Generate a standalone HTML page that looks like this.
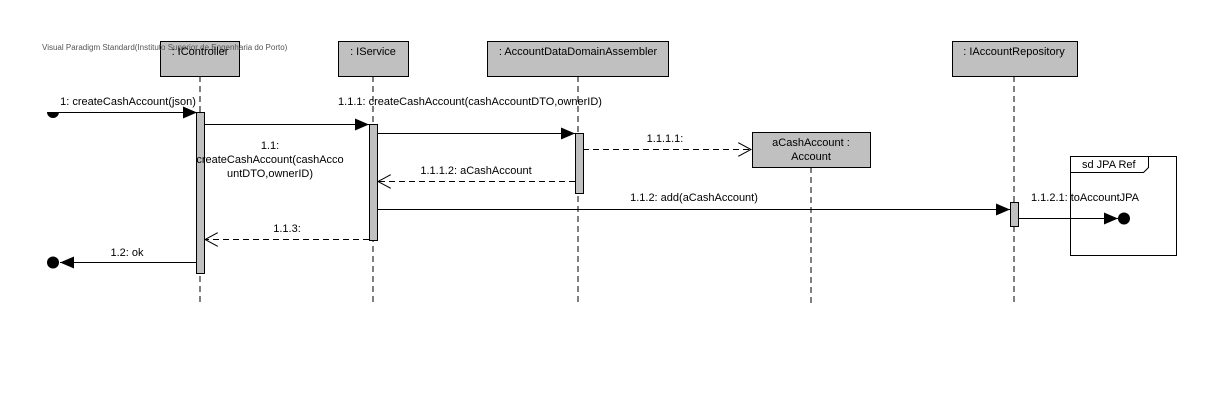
<!DOCTYPE html>
<html><head><meta charset="utf-8"><style>
html,body{margin:0;padding:0;background:#fff;width:1223px;height:407px;overflow:hidden}
text{font-family:"Liberation Sans",Arial,sans-serif;font-size:11px;fill:#000}
text.wm{font-size:8px;fill:#555}
</style></head><body>
<svg width="1223" height="407" xmlns="http://www.w3.org/2000/svg">
<defs>
<marker id="f" markerWidth="14" markerHeight="12" refX="14" refY="6" orient="auto" markerUnits="userSpaceOnUse"><path d="M0,0 L14,6 L0,12 Z" fill="#000"/></marker>
<marker id="o" markerWidth="14" markerHeight="14" refX="13" refY="7" orient="auto" markerUnits="userSpaceOnUse"><path d="M0,0 L13,7 L0,14" fill="none" stroke="#000"/></marker>
</defs>
<g stroke="#000" stroke-dasharray="6,4" stroke-width="1">
<line x1="200" y1="76" x2="200" y2="305"/>
<line x1="373" y1="76" x2="373" y2="305"/>
<line x1="578" y1="76" x2="578" y2="305"/>
<line x1="811" y1="167" x2="811" y2="305"/>
<line x1="1014" y1="76" x2="1014" y2="305"/>
</g>
<g fill="#c0c0c0" stroke="#000">
<rect x="160.5" y="41.5" width="79" height="35"/>
<rect x="338.5" y="41.5" width="70" height="35"/>
<rect x="487.5" y="41.5" width="181" height="35"/>
<rect x="952.5" y="41.5" width="125" height="35"/>
<rect x="752.5" y="132.5" width="118" height="35"/>
</g>
<text class="wm" x="42" y="50">Visual Paradigm Standard(Instituto Superior de Engenharia do Porto)</text>
<text x="200" y="55" text-anchor="middle">: IController</text>
<text x="373" y="55" text-anchor="middle">: IService</text>
<text x="578" y="55" text-anchor="middle">: AccountDataDomainAssembler</text>
<text x="1014" y="55" text-anchor="middle">: IAccountRepository</text>
<text x="811" y="146" text-anchor="middle">aCashAccount :</text>
<text x="811" y="160" text-anchor="middle">Account</text>
<rect x="1070.5" y="156.5" width="106" height="99" fill="none" stroke="#000"/>
<path d="M1070.5,172.5 H1143.5 L1148.5,167.5 V156.5" fill="none" stroke="#000"/>
<text x="1082" y="168">sd JPA Ref</text>
<g stroke="#000" fill="none">
<line x1="53" y1="112.5" x2="197" y2="112.5" marker-end="url(#f)"/>
<line x1="204" y1="124.5" x2="369" y2="124.5" marker-end="url(#f)"/>
<line x1="377" y1="133.5" x2="575" y2="133.5" marker-end="url(#f)"/>
<line x1="583" y1="149.5" x2="751" y2="149.5" stroke-dasharray="6,4" marker-end="url(#o)"/>
<line x1="575" y1="181.5" x2="378" y2="181.5" stroke-dasharray="6,4" marker-end="url(#o)"/>
<line x1="377" y1="209.5" x2="1010" y2="209.5" marker-end="url(#f)"/>
<line x1="1018" y1="218.5" x2="1118" y2="218.5" marker-end="url(#f)"/>
<line x1="369" y1="239.5" x2="205" y2="239.5" stroke-dasharray="6,4" marker-end="url(#o)"/>
<line x1="197" y1="262.5" x2="60" y2="262.5" marker-end="url(#f)"/>
</g>
<path d="M47,112 A6,6 0 0 0 59,112 Z" fill="#000"/>
<circle cx="53" cy="262.5" r="6" fill="#000"/>
<circle cx="1124" cy="218.5" r="6" fill="#000"/>
<g fill="#c0c0c0" stroke="#000">
<rect x="196.5" y="112.5" width="8" height="161"/>
<rect x="369.5" y="124.5" width="8" height="116"/>
<rect x="575.5" y="133.5" width="8" height="60"/>
<rect x="1010.5" y="202.5" width="8" height="24"/>
</g>
<text x="128" y="105" text-anchor="middle">1: createCashAccount(json)</text>
<text x="270" y="149" text-anchor="middle">1.1:</text>
<text x="270" y="163" text-anchor="middle">createCashAccount(cashAcco</text>
<text x="270" y="177" text-anchor="middle">untDTO,ownerID)</text>
<text x="470" y="105" text-anchor="middle">1.1.1: createCashAccount(cashAccountDTO,ownerID)</text>
<text x="665" y="142" text-anchor="middle">1.1.1.1:</text>
<text x="476" y="174" text-anchor="middle">1.1.1.2: aCashAccount</text>
<text x="694" y="201" text-anchor="middle">1.1.2: add(aCashAccount)</text>
<text x="1085" y="201" text-anchor="middle">1.1.2.1: toAccountJPA</text>
<text x="287" y="232" text-anchor="middle">1.1.3:</text>
<text x="127" y="256" text-anchor="middle">1.2: ok</text>
</svg>
</body></html>
